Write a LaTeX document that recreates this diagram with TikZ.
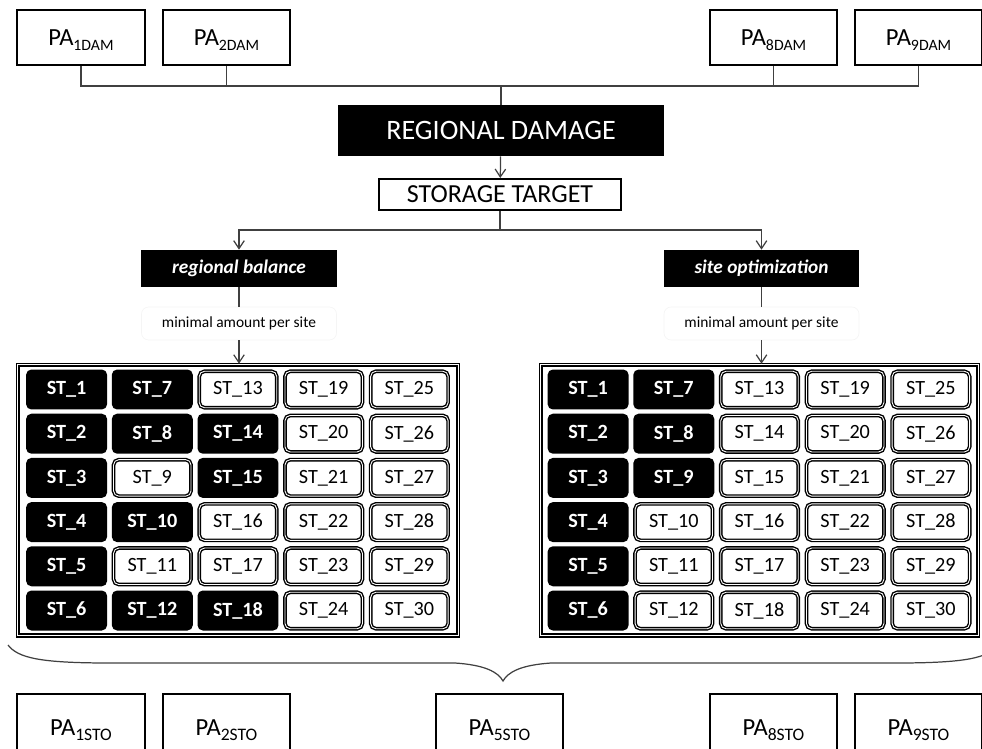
\documentclass[tikz,border=0pt]{standalone}
\usepackage{fontspec}
\setmainfont{Carlito}
\usetikzlibrary{calc, positioning}
\usetikzlibrary{arrows.meta}

\newcommand{\palabel}[2][9]{PA\raisebox{-2.8pt}[\height][0pt]{\fontsize{#1}{#1}\selectfont #2}}

\begin{document}
\begin{tikzpicture}[x=0.02cm, y=-0.02cm,
  pabox/.style={draw, line width=1.3pt, minimum width=2.55cm, minimum height=1.1cm,
    inner sep=0pt, font=\fontsize{14}{16}\selectfont},
  darkbox/.style={fill=black, text=white, inner sep=0pt},
  minbox/.style={draw=black!4, rounded corners=4pt, minimum width=3.9cm,
    minimum height=0.66cm, font=\fontsize{8.8}{10}\selectfont},
  gridbox/.style={draw, double, line width=0.9pt, double distance=0.5pt,
    minimum height=5.42cm},
  stdark/.style={fill=black, text=white, rounded corners=3pt, minimum width=1.62cm,
    minimum height=0.8cm, inner sep=0pt, font=\fontsize{11.5}{12}\selectfont\bfseries},
  stlight/.style={draw, double, line width=0.8pt, double distance=0.5pt,
    rounded corners=3pt, minimum width=1.55cm, minimum height=0.73cm, inner sep=0pt,
    font=\fontsize{11.5}{12}\selectfont},
  conn/.style={draw=black!75, line width=0.7pt},
  arr/.style={conn, -{Straight Barb[length=4.5pt, width=6pt]}}]

\useasboundingbox (0,0) rectangle (982,749);

% damage parameters
\node[pabox] (pa1) at (81,37.5) {\palabel{1DAM}};
\node[pabox] (pa2) at (226.5,37.5) {\palabel{2DAM}};
\node[pabox] (pa8) at (773.5,37.5) {\palabel{8DAM}};
\node[pabox] (pa9) at (918.5,37.5) {\palabel{9DAM}};

\node[darkbox, minimum width=6.52cm, minimum height=1.02cm,
  font=\fontsize{16}{18}\selectfont] (damage) at (501,130.5) {REGIONAL DAMAGE};
\node[draw, line width=1.1pt, minimum width=4.84cm, minimum height=0.62cm,
  inner sep=0pt, font=\fontsize{14.8}{17}\selectfont] (target) at (500,194.5) {STORAGE TARGET};

\node[darkbox, minimum width=3.92cm, minimum height=0.74cm,
  font=\fontsize{11}{13}\selectfont\bfseries\itshape] (balance) at (239,268.5) {regional balance};
\node[darkbox, minimum width=3.9cm, minimum height=0.74cm,
  font=\fontsize{11}{13}\selectfont\bfseries\itshape] (optim) at (761.5,268.5) {site optimization};

\node[minbox] (minL) at (239,323.5) {minimal amount per site};
\node[minbox] (minR) at (761.5,323.5) {minimal amount per site};

\node[gridbox, minimum width=8.82cm] (gridL) at (238,500) {};
\node[gridbox, minimum width=8.76cm] (gridR) at (759.5,500) {};

% storage sites, 1 = selected
\def\fillL{{1,1,1,1,1,1, 1,1,0,1,0,1, 0,1,1,0,0,1, 0,0,0,0,0,0, 0,0,0,0,0,0}}
\def\fillR{{1,1,1,1,1,1, 1,1,1,0,0,0, 0,0,0,0,0,0, 0,0,0,0,0,0, 0,0,0,0,0,0}}
\foreach \g/\pat in {L/\fillL, R/\fillR}
  \foreach \c in {1,...,5}
    \foreach \r in {1,...,6} {
      \pgfmathtruncatemacro{\n}{(\c-1)*6+\r}
      \pgfmathtruncatemacro{\dark}{\pat[\n-1]}
      \ifnum\dark=1 \def\cellsty{stdark}\else\def\cellsty{stlight}\fi
      \node[\cellsty] (\g-\n) at ($(grid\g.center)+({(\c-3)*85.7},{(\r-3.5)*44.2})$) {ST\_\n};
    }

% connectors
\coordinate (bus) at (damage.north |- 0,86);
\draw[conn] (pa1.south) |- (bus) -| (pa9.south);
\draw[conn] (pa2.south) -- (pa2.south |- bus);
\draw[conn] (pa8.south) -- (pa8.south |- bus);
\draw[conn] (bus) -- (damage.north);
\draw[arr] (damage) -- (target);

\coordinate (split) at (target.south |- 0,230);
\draw[conn] (target.south) -- (split);
\draw[arr] (split) -| (balance.north);
\draw[arr] (split) -| (optim.north);

\draw[conn] (balance) -- (minL);
\draw[conn] (optim) -- (minR);
\draw[arr] (minL) -- (minL |- gridL.north);
\draw[arr] (minR) -- (minR |- gridR.north);

% brace
\coordinate (braceL) at (8,645);
\coordinate (braceR) at (998,645);
\coordinate (braceTip) at (503,681);
\draw[conn] (braceL) .. controls (18,658) and (40,663) .. (110,663) -- (455,663)
  .. controls (485,665) and (498,672) .. (braceTip)
  .. controls (508,672) and (521,665) .. (551,663) -- (896,663)
  .. controls (966,663) and (988,658) .. (braceR);

% storage parameters
\node[pabox, line width=1.1pt, minimum height=1.36cm] (sto1) at (81,728) {\palabel[10]{1STO}};
\node[pabox, line width=1.1pt, minimum height=1.36cm] (sto2) at (226.5,728) {\palabel[10]{2STO}};
\node[pabox, line width=1.1pt, minimum height=1.36cm] (sto5) at (499.5,728) {\palabel[10]{5STO}};
\node[pabox, line width=1.1pt, minimum height=1.36cm] (sto8) at (773.5,728) {\palabel[10]{8STO}};
\node[pabox, line width=1.1pt, minimum height=1.36cm] (sto9) at (918.5,728) {\palabel[10]{9STO}};
\end{tikzpicture}
\end{document}
